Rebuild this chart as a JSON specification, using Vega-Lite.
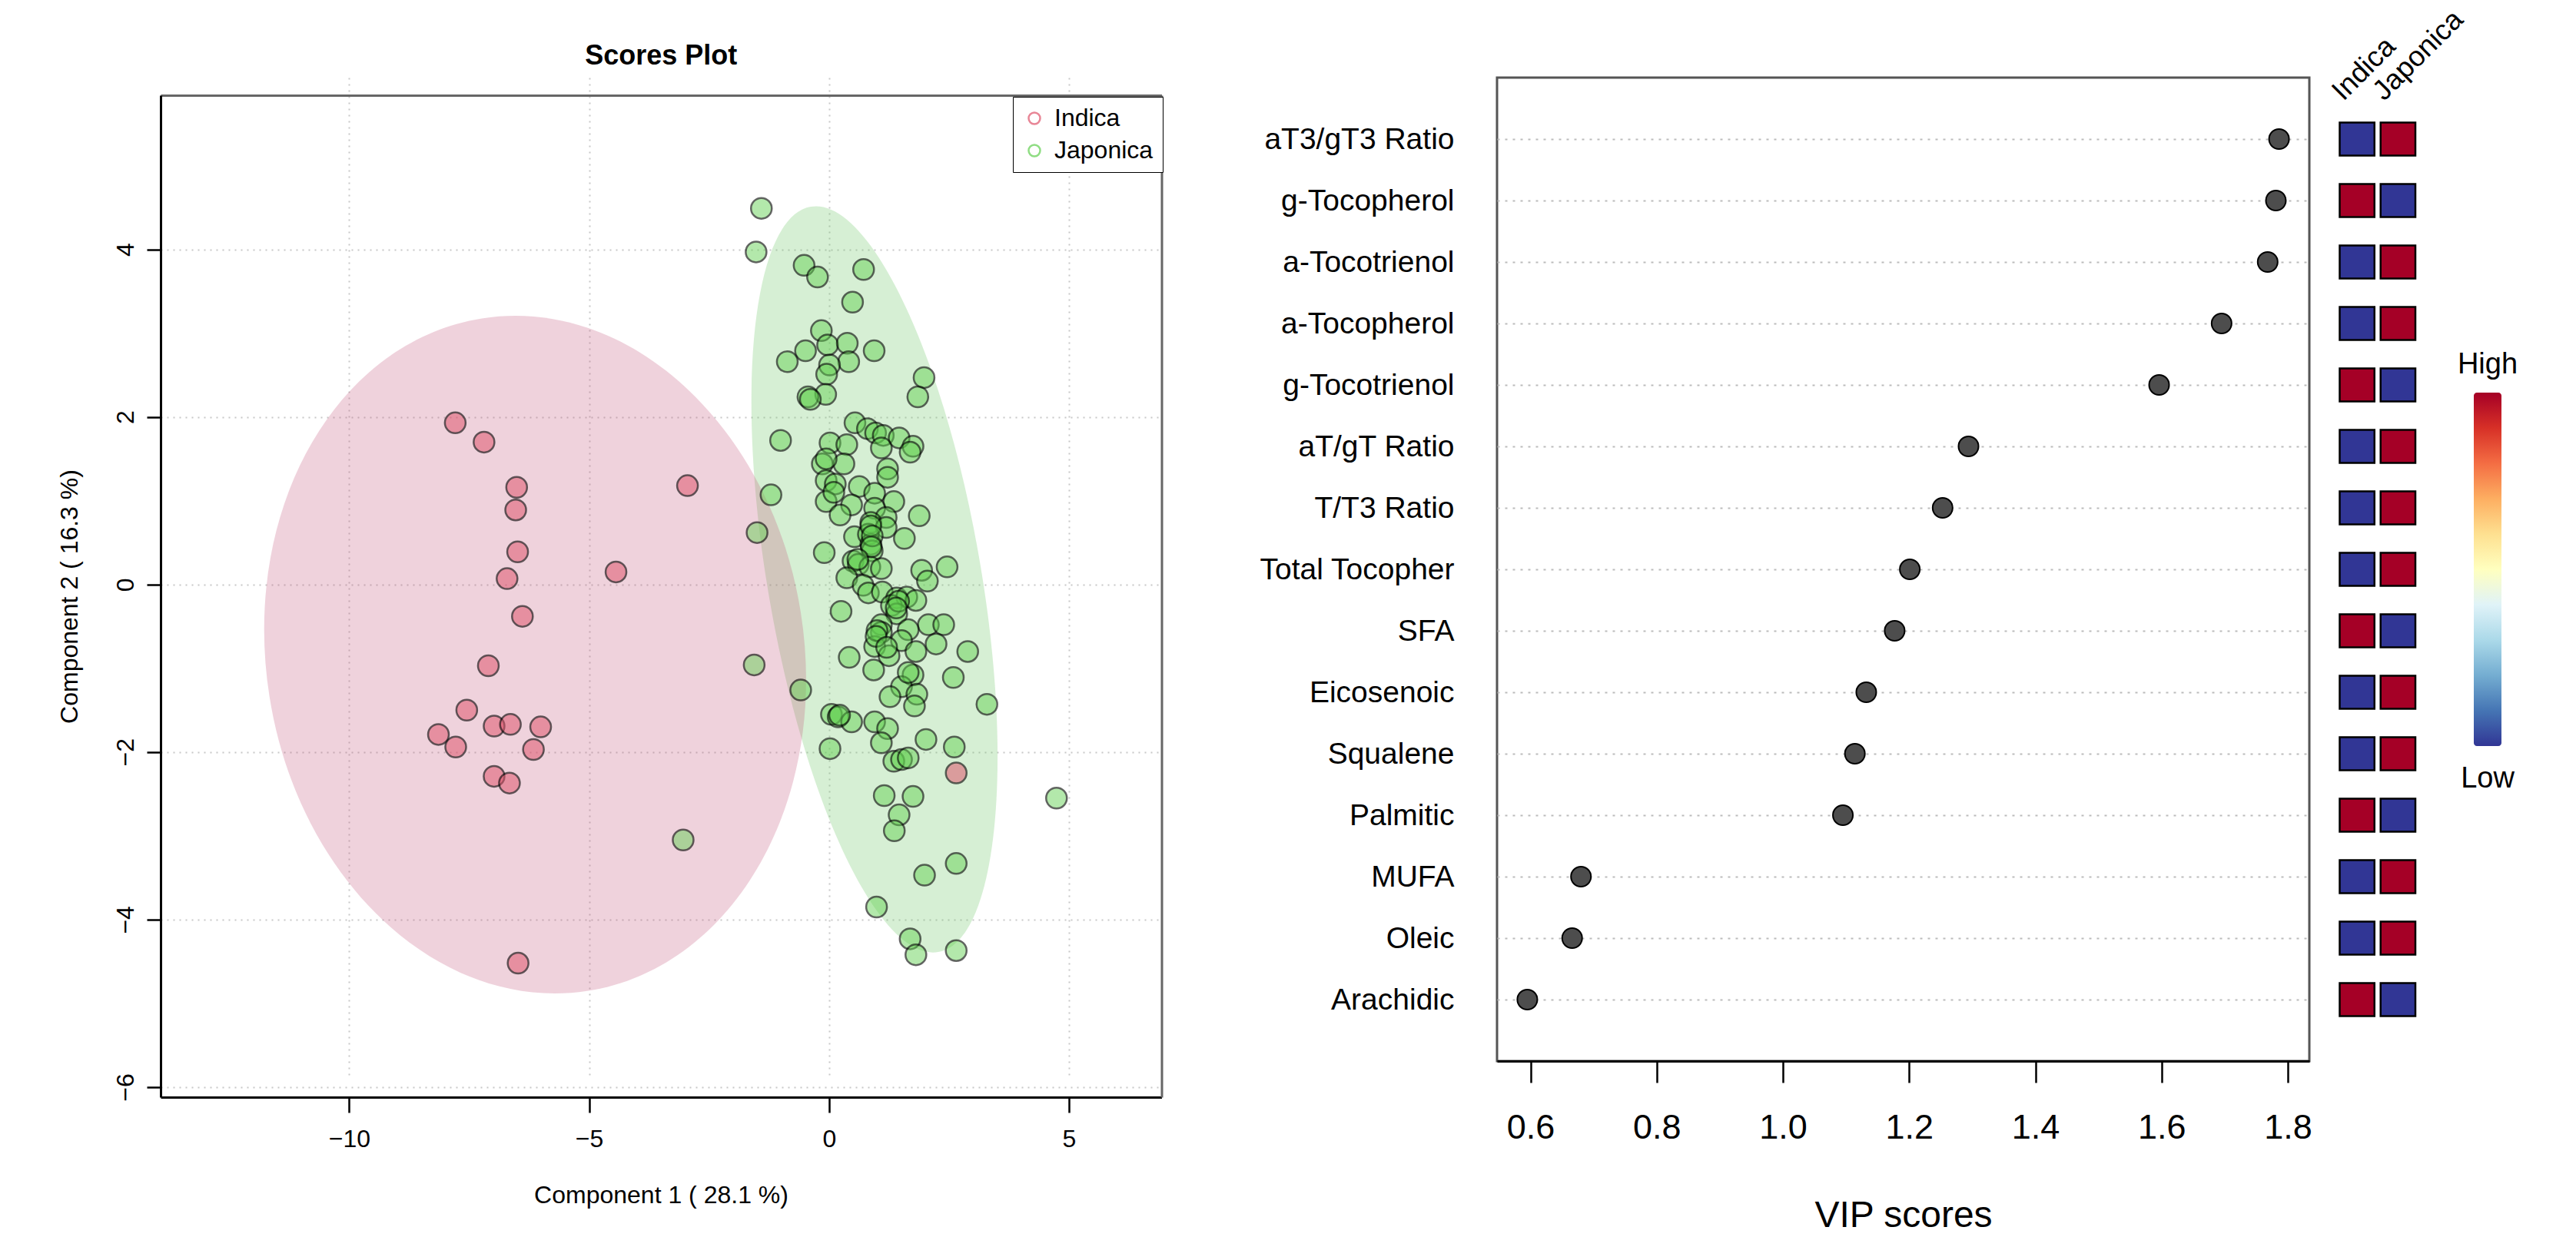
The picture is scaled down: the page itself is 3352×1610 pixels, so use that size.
{
  "$schema": "https://vega.github.io/schema/vega-lite/v6.json",
  "background": "white",
  "padding": {"left": 74, "top": 6, "right": 5, "bottom": 2},
  "config": {"font": "Liberation Sans", "view": {"stroke": null}},
  "datasets": {
    "scores": [
      {"group": "Indica", "c1": -7.79, "c2": 1.93},
      {"group": "Indica", "c1": -7.19, "c2": 1.70},
      {"group": "Indica", "c1": -6.51, "c2": 1.16},
      {"group": "Indica", "c1": -6.53, "c2": 0.89},
      {"group": "Indica", "c1": -6.49, "c2": 0.39},
      {"group": "Indica", "c1": -6.71, "c2": 0.07},
      {"group": "Indica", "c1": -6.39, "c2": -0.38},
      {"group": "Indica", "c1": -7.10, "c2": -0.97},
      {"group": "Indica", "c1": -7.55, "c2": -1.50},
      {"group": "Indica", "c1": -8.14, "c2": -1.79},
      {"group": "Indica", "c1": -7.78, "c2": -1.94},
      {"group": "Indica", "c1": -6.98, "c2": -1.69},
      {"group": "Indica", "c1": -6.64, "c2": -1.67},
      {"group": "Indica", "c1": -6.01, "c2": -1.70},
      {"group": "Indica", "c1": -6.16, "c2": -1.97},
      {"group": "Indica", "c1": -6.98, "c2": -2.29},
      {"group": "Indica", "c1": -6.66, "c2": -2.37},
      {"group": "Indica", "c1": -6.48, "c2": -4.52},
      {"group": "Indica", "c1": -4.44, "c2": 0.15},
      {"group": "Indica", "c1": -2.95, "c2": 1.18},
      {"group": "Indica", "c1": 2.65, "c2": -2.25},
      {"group": "Japonica", "c1": -1.41, "c2": 4.49},
      {"group": "Japonica", "c1": -1.52, "c2": 3.97},
      {"group": "Japonica", "c1": -0.52, "c2": 3.81},
      {"group": "Japonica", "c1": -0.24, "c2": 3.67},
      {"group": "Japonica", "c1": 0.72, "c2": 3.76},
      {"group": "Japonica", "c1": 0.49, "c2": 3.37},
      {"group": "Japonica", "c1": -0.16, "c2": 3.03},
      {"group": "Japonica", "c1": -0.03, "c2": 2.86},
      {"group": "Japonica", "c1": 0.38, "c2": 2.88},
      {"group": "Japonica", "c1": -0.49, "c2": 2.79},
      {"group": "Japonica", "c1": 0.94, "c2": 2.79},
      {"group": "Japonica", "c1": -0.87, "c2": 2.66},
      {"group": "Japonica", "c1": 0.41, "c2": 2.66},
      {"group": "Japonica", "c1": 0.01, "c2": 2.62},
      {"group": "Japonica", "c1": -0.05, "c2": 2.51},
      {"group": "Japonica", "c1": -0.07, "c2": 2.27},
      {"group": "Japonica", "c1": -0.44, "c2": 2.24},
      {"group": "Japonica", "c1": -0.39, "c2": 2.21},
      {"group": "Japonica", "c1": 1.98, "c2": 2.47},
      {"group": "Japonica", "c1": 1.85, "c2": 2.24},
      {"group": "Japonica", "c1": -1.01, "c2": 1.72},
      {"group": "Japonica", "c1": 0.54, "c2": 1.93},
      {"group": "Japonica", "c1": 0.80, "c2": 1.86},
      {"group": "Japonica", "c1": 0.97, "c2": 1.81},
      {"group": "Japonica", "c1": 1.13, "c2": 1.78},
      {"group": "Japonica", "c1": 1.46, "c2": 1.75},
      {"group": "Japonica", "c1": 1.75, "c2": 1.65},
      {"group": "Japonica", "c1": 1.69, "c2": 1.58},
      {"group": "Japonica", "c1": 1.09, "c2": 1.63},
      {"group": "Japonica", "c1": 0.02, "c2": 1.69},
      {"group": "Japonica", "c1": 0.37, "c2": 1.67},
      {"group": "Japonica", "c1": -0.14, "c2": 1.44},
      {"group": "Japonica", "c1": 0.31, "c2": 1.44},
      {"group": "Japonica", "c1": 1.22, "c2": 1.38},
      {"group": "Japonica", "c1": -0.06, "c2": 1.50},
      {"group": "Japonica", "c1": -1.21, "c2": 1.07},
      {"group": "Japonica", "c1": -1.50, "c2": 0.62},
      {"group": "Japonica", "c1": -0.10, "c2": 0.38},
      {"group": "Japonica", "c1": -1.56, "c2": -0.96},
      {"group": "Japonica", "c1": -0.59, "c2": -1.26},
      {"group": "Japonica", "c1": -0.06, "c2": 1.24},
      {"group": "Japonica", "c1": 0.13, "c2": 1.20},
      {"group": "Japonica", "c1": 0.63, "c2": 1.17},
      {"group": "Japonica", "c1": 0.95, "c2": 1.09},
      {"group": "Japonica", "c1": 1.22, "c2": 1.28},
      {"group": "Japonica", "c1": -0.06, "c2": 0.99},
      {"group": "Japonica", "c1": 1.35, "c2": 0.99},
      {"group": "Japonica", "c1": 0.47, "c2": 0.95},
      {"group": "Japonica", "c1": 0.23, "c2": 0.83},
      {"group": "Japonica", "c1": 0.95, "c2": 0.91},
      {"group": "Japonica", "c1": 1.19, "c2": 0.80},
      {"group": "Japonica", "c1": 1.88, "c2": 0.82},
      {"group": "Japonica", "c1": 0.87, "c2": 0.74},
      {"group": "Japonica", "c1": 1.19, "c2": 0.68},
      {"group": "Japonica", "c1": 0.53, "c2": 0.57},
      {"group": "Japonica", "c1": 0.82, "c2": 0.60},
      {"group": "Japonica", "c1": 1.57, "c2": 0.55},
      {"group": "Japonica", "c1": 0.87, "c2": 0.48},
      {"group": "Japonica", "c1": 0.90, "c2": 0.40},
      {"group": "Japonica", "c1": 0.50, "c2": 0.28},
      {"group": "Japonica", "c1": 0.61, "c2": 0.24},
      {"group": "Japonica", "c1": 0.85, "c2": 0.21},
      {"group": "Japonica", "c1": 1.09, "c2": 0.19},
      {"group": "Japonica", "c1": 0.37, "c2": 0.08},
      {"group": "Japonica", "c1": 1.93, "c2": 0.17},
      {"group": "Japonica", "c1": 2.46, "c2": 0.21},
      {"group": "Japonica", "c1": 2.05, "c2": 0.04},
      {"group": "Japonica", "c1": 0.71, "c2": -0.01},
      {"group": "Japonica", "c1": 0.82, "c2": -0.10},
      {"group": "Japonica", "c1": 1.11, "c2": -0.09},
      {"group": "Japonica", "c1": 1.41, "c2": -0.16},
      {"group": "Japonica", "c1": 1.62, "c2": -0.15},
      {"group": "Japonica", "c1": 1.81, "c2": -0.19},
      {"group": "Japonica", "c1": 1.30, "c2": -0.25},
      {"group": "Japonica", "c1": 1.41, "c2": -0.35},
      {"group": "Japonica", "c1": 0.25, "c2": -0.32},
      {"group": "Japonica", "c1": 1.09, "c2": -0.48},
      {"group": "Japonica", "c1": 2.07, "c2": -0.48},
      {"group": "Japonica", "c1": 2.39, "c2": -0.48},
      {"group": "Japonica", "c1": 1.65, "c2": -0.54},
      {"group": "Japonica", "c1": 1.09, "c2": -0.57},
      {"group": "Japonica", "c1": 2.23, "c2": -0.71},
      {"group": "Japonica", "c1": 1.51, "c2": -0.67},
      {"group": "Japonica", "c1": 2.89, "c2": -0.80},
      {"group": "Japonica", "c1": 0.42, "c2": -0.87},
      {"group": "Japonica", "c1": 0.95, "c2": -0.74},
      {"group": "Japonica", "c1": 1.25, "c2": -0.85},
      {"group": "Japonica", "c1": 0.93, "c2": -1.02},
      {"group": "Japonica", "c1": 1.81, "c2": -0.80},
      {"group": "Japonica", "c1": 1.75, "c2": -1.08},
      {"group": "Japonica", "c1": 1.51, "c2": -1.22},
      {"group": "Japonica", "c1": 1.27, "c2": -1.34},
      {"group": "Japonica", "c1": 1.83, "c2": -1.31},
      {"group": "Japonica", "c1": 1.78, "c2": -1.45},
      {"group": "Japonica", "c1": 2.59, "c2": -1.11},
      {"group": "Japonica", "c1": 3.29, "c2": -1.43},
      {"group": "Japonica", "c1": 0.05, "c2": -1.55},
      {"group": "Japonica", "c1": 0.19, "c2": -1.58},
      {"group": "Japonica", "c1": 0.47, "c2": -1.64},
      {"group": "Japonica", "c1": 0.95, "c2": -1.64},
      {"group": "Japonica", "c1": 1.22, "c2": -1.72},
      {"group": "Japonica", "c1": 1.09, "c2": -1.89},
      {"group": "Japonica", "c1": 2.02, "c2": -1.85},
      {"group": "Japonica", "c1": 2.61, "c2": -1.94},
      {"group": "Japonica", "c1": 0.02, "c2": -1.96},
      {"group": "Japonica", "c1": 1.35, "c2": -2.11},
      {"group": "Japonica", "c1": 1.51, "c2": -2.09},
      {"group": "Japonica", "c1": 1.65, "c2": -2.07},
      {"group": "Japonica", "c1": 0.87, "c2": 0.70},
      {"group": "Japonica", "c1": 0.90, "c2": 0.58},
      {"group": "Japonica", "c1": 0.88, "c2": 0.45},
      {"group": "Japonica", "c1": 0.60, "c2": 0.30},
      {"group": "Japonica", "c1": 1.45, "c2": -0.20},
      {"group": "Japonica", "c1": 1.40, "c2": -0.28},
      {"group": "Japonica", "c1": 1.00, "c2": -0.55},
      {"group": "Japonica", "c1": 0.98, "c2": -0.62},
      {"group": "Japonica", "c1": 1.20, "c2": -0.75},
      {"group": "Japonica", "c1": 1.65, "c2": -1.05},
      {"group": "Japonica", "c1": 0.22, "c2": -1.56},
      {"group": "Japonica", "c1": 0.10, "c2": 1.10},
      {"group": "Japonica", "c1": 1.15, "c2": -2.52},
      {"group": "Japonica", "c1": 1.75, "c2": -2.53},
      {"group": "Japonica", "c1": 1.46, "c2": -2.75},
      {"group": "Japonica", "c1": 1.36, "c2": -2.94},
      {"group": "Japonica", "c1": 2.65, "c2": -3.33},
      {"group": "Japonica", "c1": 1.99, "c2": -3.47},
      {"group": "Japonica", "c1": 0.99, "c2": -3.85},
      {"group": "Japonica", "c1": 1.69, "c2": -4.23},
      {"group": "Japonica", "c1": 1.81, "c2": -4.42},
      {"group": "Japonica", "c1": 2.65, "c2": -4.37},
      {"group": "Japonica", "c1": -3.04, "c2": -3.05},
      {"group": "Japonica", "c1": 4.74, "c2": -2.55}
    ],
    "ellipses": [
      {"group": "Indica", "c1": -6.125, "c2": -0.837},
      {"group": "Japonica", "c1": 0.947, "c2": 0.061}
    ],
    "vip": [
      {"feature": "aT3/gT3 Ratio", "vip": 1.786},
      {"feature": "g-Tocopherol", "vip": 1.781},
      {"feature": "a-Tocotrienol", "vip": 1.768},
      {"feature": "a-Tocopherol", "vip": 1.695},
      {"feature": "g-Tocotrienol", "vip": 1.596},
      {"feature": "aT/gT Ratio", "vip": 1.294},
      {"feature": "T/T3 Ratio", "vip": 1.253},
      {"feature": "Total Tocopher", "vip": 1.201},
      {"feature": "SFA", "vip": 1.177},
      {"feature": "Eicosenoic", "vip": 1.132},
      {"feature": "Squalene", "vip": 1.114},
      {"feature": "Palmitic", "vip": 1.095},
      {"feature": "MUFA", "vip": 0.680},
      {"feature": "Oleic", "vip": 0.666},
      {"feature": "Arachidic", "vip": 0.595}
    ],
    "heat": [
      {"feature": "aT3/gT3 Ratio", "group": "Indica", "level": "Low"},
      {"feature": "aT3/gT3 Ratio", "group": "Japonica", "level": "High"},
      {"feature": "g-Tocopherol", "group": "Indica", "level": "High"},
      {"feature": "g-Tocopherol", "group": "Japonica", "level": "Low"},
      {"feature": "a-Tocotrienol", "group": "Indica", "level": "Low"},
      {"feature": "a-Tocotrienol", "group": "Japonica", "level": "High"},
      {"feature": "a-Tocopherol", "group": "Indica", "level": "Low"},
      {"feature": "a-Tocopherol", "group": "Japonica", "level": "High"},
      {"feature": "g-Tocotrienol", "group": "Indica", "level": "High"},
      {"feature": "g-Tocotrienol", "group": "Japonica", "level": "Low"},
      {"feature": "aT/gT Ratio", "group": "Indica", "level": "Low"},
      {"feature": "aT/gT Ratio", "group": "Japonica", "level": "High"},
      {"feature": "T/T3 Ratio", "group": "Indica", "level": "Low"},
      {"feature": "T/T3 Ratio", "group": "Japonica", "level": "High"},
      {"feature": "Total Tocopher", "group": "Indica", "level": "Low"},
      {"feature": "Total Tocopher", "group": "Japonica", "level": "High"},
      {"feature": "SFA", "group": "Indica", "level": "High"},
      {"feature": "SFA", "group": "Japonica", "level": "Low"},
      {"feature": "Eicosenoic", "group": "Indica", "level": "Low"},
      {"feature": "Eicosenoic", "group": "Japonica", "level": "High"},
      {"feature": "Squalene", "group": "Indica", "level": "Low"},
      {"feature": "Squalene", "group": "Japonica", "level": "High"},
      {"feature": "Palmitic", "group": "Indica", "level": "High"},
      {"feature": "Palmitic", "group": "Japonica", "level": "Low"},
      {"feature": "MUFA", "group": "Indica", "level": "Low"},
      {"feature": "MUFA", "group": "Japonica", "level": "High"},
      {"feature": "Oleic", "group": "Indica", "level": "Low"},
      {"feature": "Oleic", "group": "Japonica", "level": "High"},
      {"feature": "Arachidic", "group": "Indica", "level": "High"},
      {"feature": "Arachidic", "group": "Japonica", "level": "Low"}
    ],
    "colorbar": [{"key": "bar", "low": 0, "high": 1}],
    "cblabels": [{"key": "bar", "label": "High", "end": 1}, {"key": "bar", "label": "Low", "end": 0}]
  },
  "bounds": "flush",
  "spacing": 35,
  "hconcat": [
    {
      "width": 1302.5,
      "height": 1327,
      "view": {"stroke": null},
      "title": {"text": "Scores Plot", "fontSize": 36, "fontWeight": "bold", "anchor": "middle", "frame": "group", "offset": -19, "baseline": "alphabetic", "color": "black"},
      "resolve": {"axis": {"x": "independent", "y": "independent"}},
      "layer": [
        {
          "data": {"name": "ellipses"},
          "transform": [{"filter": "datum.group === 'Japonica'"}],
          "mark": {"type": "point", "filled": true, "shape": "M 0.2825 0 C 0.2825 0.5523 0.156 1 0 1 C -0.156 1 -0.2825 0.5523 -0.2825 0 C -0.2825 -0.5523 -0.156 -1 0 -1 C 0.156 -1 0.2825 -0.5523 0.2825 0 Z", "size": 968256, "angle": -9.7, "fill": "#76CA70", "fillOpacity": 0.3, "strokeWidth": 0},
          "encoding": {
            "x": {
              "field": "c1", "type": "quantitative",
              "scale": {"domain": [-13.93, 6.93], "nice": false, "zero": false},
              "axis": {
                "values": [-10, -5, 0, 5], "grid": true, "gridDash": [2, 6], "gridColor": "#C8C8C8", "gridWidth": 2,
                "tickSize": 20, "tickWidth": 2.5, "tickColor": "black", "domainColor": "black", "domainWidth": 3,
                "labelFontSize": 32, "labelColor": "black", "labelPadding": 19, "labelFlush": false,
                "title": "Component 1 ( 28.1 %)", "titleFontSize": 32, "titleFontWeight": "normal", "titleColor": "black",
                "titleX": 651, "titleY": 127, "titleBaseline": "middle", "titleAlign": "center"
              }
            },
            "y": {
              "field": "c2", "type": "quantitative",
              "scale": {"domain": [-6.12, 5.84], "range": [1327, 23], "nice": false, "zero": false},
              "axis": {
                "values": [-6, -4, -2, 0, 2, 4], "grid": true, "gridDash": [2, 6], "gridColor": "#C8C8C8", "gridWidth": 2,
                "tickSize": 18, "tickWidth": 2.5, "tickColor": "black", "domainColor": "black", "domainWidth": 3,
                "labelFontSize": 32, "labelColor": "black", "labelAngle": -90, "labelAlign": "center", "labelBaseline": "alphabetic", "labelPadding": 18, "labelFlush": false,
                "title": "Component 2 ( 16.3 %)", "titleFontSize": 32, "titleFontWeight": "normal", "titleColor": "black",
                "titleX": -119, "titleY": 675, "titleAngle": -90, "titleBaseline": "middle", "titleAlign": "center"
              }
            }
          }
        },
        {
          "data": {"name": "ellipses"},
          "transform": [{"filter": "datum.group === 'Indica'"}],
          "mark": {"type": "point", "filled": true, "shape": "M 0.79 0 C 0.79 0.5523 0.4363 1 0 1 C -0.4363 1 -0.79 0.5523 -0.79 0 C -0.79 -0.5523 -0.4363 -1 0 -1 C 0.4363 -1 0.79 -0.5523 0.79 0 Z", "size": 784996, "angle": -9, "fill": "#C4587F", "fillOpacity": 0.27, "strokeWidth": 0},
          "encoding": {
            "x": {
              "field": "c1", "type": "quantitative",
              "scale": {"domain": [-13.93, 6.93], "nice": false, "zero": false},
              "axis": {"orient": "top", "offset": -23, "title": null, "labels": false, "ticks": false, "grid": false, "domain": true, "domainColor": "#666666", "domainWidth": 3}
            },
            "y": {
              "field": "c2", "type": "quantitative",
              "scale": {"domain": [-6.12, 5.84], "range": [1327, 23], "nice": false, "zero": false},
              "axis": {"orient": "right", "title": null, "labels": false, "ticks": false, "grid": false, "domain": true, "domainColor": "#666666", "domainWidth": 3}
            }
          }
        },
        {
          "data": {"name": "scores"},
          "mark": {"type": "point", "filled": true, "size": 729, "stroke": "black", "strokeWidth": 2.5, "strokeOpacity": 0.85},
          "encoding": {
            "x": {"field": "c1", "type": "quantitative", "scale": {"domain": [-13.93, 6.93], "nice": false, "zero": false}, "axis": null},
            "y": {"field": "c2", "type": "quantitative", "scale": {"domain": [-6.12, 5.84], "range": [1327, 23], "nice": false, "zero": false}, "axis": null},
            "fill": {"field": "group", "type": "nominal", "scale": {"domain": ["Japonica", "Indica"], "range": ["#61D04F", "#DF536B"]}, "legend": null},
            "fillOpacity": {"field": "group", "type": "nominal", "scale": {"domain": ["Japonica", "Indica"], "range": [0.68, 0.75]}, "legend": null}
          }
        },
        {
          "data": {"name": "scores"},
          "transform": [{"filter": "false"}],
          "mark": {"type": "point", "filled": false, "size": 225, "strokeWidth": 2.5},
          "encoding": {
            "x": {"field": "c1", "type": "quantitative", "scale": {"domain": [-13.93, 6.93], "nice": false, "zero": false}, "axis": null},
            "y": {"field": "c2", "type": "quantitative", "scale": {"domain": [-6.12, 5.84], "range": [1327, 23], "nice": false, "zero": false}, "axis": null},
            "stroke": {
              "field": "group", "type": "nominal",
              "scale": {"domain": ["Indica", "Japonica"], "range": ["#DF536B", "#61D04F"]},
              "legend": {"title": null, "orient": "none", "legendX": 1109, "legendY": 25, "labelFontSize": 32, "labelColor": "black", "symbolType": "circle", "symbolSize": 225, "symbolStrokeWidth": 2.5, "padding": 12, "rowPadding": 10, "labelOffset": 10, "strokeColor": "black", "fillColor": "white"}
            }
          }
        }
      ]
    },
    {
      "width": 365.5,
      "height": 1280,
      "view": {"stroke": null},
      "data": {"values": []},
      "mark": {"type": "text", "text": ""}
    },
    {
      "width": 1057,
      "height": 1280,
      "view": {"stroke": "#555555", "strokeWidth": 3},
      "data": {"name": "vip"},
      "mark": {"type": "point", "filled": true, "size": 676, "fill": "#4D4D4D", "stroke": "black", "strokeWidth": 2, "opacity": 1},
      "encoding": {
        "y": {
          "field": "feature", "type": "nominal", "sort": null,
          "scale": {"type": "point", "padding": 1},
          "axis": {"title": null, "labelFontSize": 39, "labelColor": "black", "labelPadding": 56, "ticks": false, "tickSize": 0, "domain": false, "grid": true, "gridDash": [3, 7], "gridColor": "#BBBBBB", "gridWidth": 2, "labelLimit": 600}
        },
        "x": {
          "field": "vip", "type": "quantitative",
          "scale": {"domain": [0.547, 1.834], "nice": false, "zero": false},
          "axis": {
            "values": [0.6, 0.8, 1.0, 1.2, 1.4, 1.6, 1.8], "format": ".1f", "grid": false,
            "labelFontSize": 45, "labelColor": "black", "labelPadding": 36, "labelFlush": false,
            "tickSize": 28, "tickWidth": 2.5, "tickColor": "black", "domain": true, "domainColor": "black", "domainWidth": 3,
            "title": "VIP scores", "titleFontSize": 48, "titleFontWeight": "normal", "titleColor": "black",
            "titleX": 528.5, "titleY": 201, "titleBaseline": "middle", "titleAlign": "center"
          }
        }
      }
    },
    {
      "width": 260,
      "height": 1280,
      "view": {"stroke": null},
      "resolve": {"scale": {"x": "independent", "y": "independent"}, "axis": {"x": "independent", "y": "independent"}},
      "layer": [
        {
          "data": {"name": "heat"},
          "mark": {"type": "rect", "stroke": "black", "strokeWidth": 2.5},
          "encoding": {
            "x": {
              "field": "group", "type": "nominal",
              "scale": {"type": "band", "domain": ["Indica", "Japonica"], "range": [4.5, 103], "paddingInner": 0.15, "paddingOuter": 0},
              "axis": {"orient": "top", "title": null, "labelAngle": -45, "labelAlign": "left", "labelBaseline": "alphabetic", "labelFontSize": 37, "labelColor": "black", "domain": false, "ticks": false, "tickSize": 0, "labelPadding": 0, "offset": -31, "labelOffset": -18}
            },
            "y": {
              "field": "feature", "type": "nominal", "sort": null,
              "scale": {"type": "band", "paddingInner": 0.4625, "paddingOuter": 0.73125},
              "axis": null
            },
            "color": {"field": "level", "type": "nominal", "scale": {"domain": ["High", "Low"], "range": ["#A50026", "#313695"]}, "legend": null}
          }
        },
        {
          "data": {"name": "colorbar"},
          "mark": {
            "type": "rect", "cornerRadius": 4,
            "fill": {"gradient": "linear", "x1": 0, "y1": 1, "x2": 0, "y2": 0,
              "stops": [
                {"offset": 0, "color": "#313695"},
                {"offset": 0.1, "color": "#4575b4"},
                {"offset": 0.2, "color": "#74add1"},
                {"offset": 0.3, "color": "#abd9e9"},
                {"offset": 0.4, "color": "#e0f3f8"},
                {"offset": 0.5, "color": "#ffffbf"},
                {"offset": 0.6, "color": "#fee090"},
                {"offset": 0.7, "color": "#fdae61"},
                {"offset": 0.8, "color": "#f46d43"},
                {"offset": 0.9, "color": "#d73027"},
                {"offset": 1, "color": "#a50026"}
              ]}
          },
          "encoding": {
            "x": {"field": "key", "type": "nominal", "scale": {"type": "band", "range": [179, 215], "paddingInner": 0, "paddingOuter": 0}, "axis": null},
            "y": {"field": "low", "type": "quantitative", "scale": {"domain": [0, 1], "range": [870, 410], "nice": false, "zero": false}, "axis": null},
            "y2": {"field": "high"}
          }
        },
        {
          "data": {"name": "cblabels"},
          "transform": [{"filter": "datum.label === 'High'"}],
          "mark": {"type": "text", "fontSize": 38, "dy": -25, "baseline": "alphabetic", "align": "center", "color": "black"},
          "encoding": {
            "x": {"field": "key", "type": "nominal", "scale": {"type": "band", "range": [179, 215], "paddingInner": 0, "paddingOuter": 0}, "axis": null},
            "y": {"field": "end", "type": "quantitative", "scale": {"domain": [0, 1], "range": [870, 410], "nice": false, "zero": false}, "axis": null},
            "text": {"field": "label"}
          }
        },
        {
          "data": {"name": "cblabels"},
          "transform": [{"filter": "datum.label === 'Low'"}],
          "mark": {"type": "text", "fontSize": 38, "dy": 54, "baseline": "alphabetic", "align": "center", "color": "black"},
          "encoding": {
            "x": {"field": "key", "type": "nominal", "scale": {"type": "band", "range": [179, 215], "paddingInner": 0, "paddingOuter": 0}, "axis": null},
            "y": {"field": "end", "type": "quantitative", "scale": {"domain": [0, 1], "range": [870, 410], "nice": false, "zero": false}, "axis": null},
            "text": {"field": "label"}
          }
        }
      ]
    }
  ]
}
